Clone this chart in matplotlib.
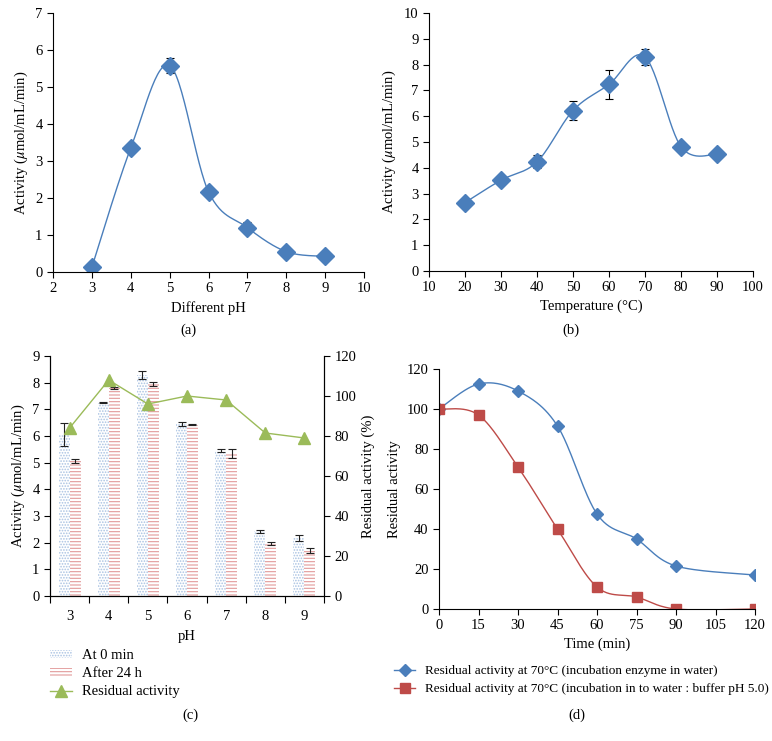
import numpy as np
import matplotlib
matplotlib.use('Agg')
import matplotlib.pyplot as plt
from matplotlib.patches import Patch
from matplotlib.lines import Line2D

plt.rcParams['font.family'] = ['Liberation Serif', 'DejaVu Serif']
plt.rcParams['mathtext.fontset'] = 'stix'
plt.rcParams['font.size'] = 10.5
plt.rcParams['hatch.linewidth'] = 0.8

# (a) activity vs pH
ph_a = [3, 4, 5, 6, 7, 8, 9]
act_a = [0.13, 3.35, 5.58, 2.17, 1.2, 0.55, 0.42]
err_a = [0.04, 0.05, 0.2, 0.06, 0.15, 0.05, 0.04]

# (b) activity vs temperature
temp_b = [20, 30, 40, 50, 60, 70, 80, 90]
act_b = [2.65, 3.52, 4.23, 6.22, 7.23, 8.3, 4.82, 4.52]
err_b = [0.15, 0.1, 0.25, 0.35, 0.55, 0.3, 0.08, 0.15]

# (c) pH stability
ph_c = ['3', '4', '5', '6', '7', '8', '9']
act_0min = [6.05, 7.25, 8.3, 6.45, 5.45, 2.42, 2.17]
err_0min = [0.42, 0.03, 0.15, 0.07, 0.05, 0.06, 0.12]
act_24h = [5.05, 7.8, 7.95, 6.43, 5.35, 1.97, 1.7]
err_24h = [0.07, 0.03, 0.06, 0.02, 0.18, 0.05, 0.1]
resid_c = [84, 108, 96, 100, 98, 81.5, 79]

# (d) thermal stability
time_d = [0, 15, 30, 45, 60, 75, 90, 120]
resid_water = [100, 112.5, 109, 91.5, 47.5, 35, 21.5, 17]
resid_buffer = [100, 97, 71, 40, 11, 6, 0, 0]

BLUE = '#4a7ebb'
RED = '#be4b48'
GREEN = '#9bbb59'
W, H = 772, 741


def box(x0, y0, x1, y1):
    return [x0 / W, 1 - y1 / H, (x1 - x0) / W, (y1 - y0) / H]


def smooth(x, y, xr, yr, n=30):
    # excel-like smoothed line (bezier with 1/6 tangents), done in normalized space
    x = np.asarray(x, float) / xr
    y = np.asarray(y, float) / yr
    P = np.column_stack([x, y])
    P = np.vstack([P[0], P, P[-1]])
    out = []
    t = np.linspace(0, 1, n)[:, None]
    for i in range(1, len(P) - 2):
        p0, p1, p2, p3 = P[i - 1], P[i], P[i + 1], P[i + 2]
        c1 = p1 + (p2 - p0) / 6
        c2 = p2 - (p3 - p1) / 6
        seg = ((1 - t) ** 3) * p1 + 3 * ((1 - t) ** 2) * t * c1 + 3 * (1 - t) * t ** 2 * c2 + t ** 3 * p2
        out.append(seg)
    out = np.vstack(out)
    return out[:, 0] * xr, out[:, 1] * yr


def style(ax):
    for s in ['top', 'right']:
        ax.spines[s].set_visible(False)
    ax.tick_params(direction='out', length=4, width=0.8, labelsize=10.5)


fig = plt.figure(figsize=(W / 100, H / 100), dpi=100)

# ---- (a)
ax = fig.add_axes(box(53, 13, 364, 272))
style(ax)
sx, sy = smooth(ph_a, act_a, 8, 7)
ax.plot(sx, sy, color=BLUE, lw=1)
ax.errorbar(ph_a, act_a, yerr=err_a, fmt='D', color=BLUE, ms=9, ecolor='black',
            elinewidth=0.8, capsize=3, capthick=0.8)
ax.set_xlim(2, 10)
ax.set_ylim(0, 7)
ax.set_xticks(range(2, 11))
ax.set_yticks(range(0, 8))
ax.set_xlabel('Different pH', labelpad=4)
ax.set_ylabel('Activity ($\\mu$mol/mL/min)')
fig.text(188 / W, 1 - 330 / H, '(a)', ha='center', va='center', fontsize=10.5)

# ---- (b)
ax = fig.add_axes(box(429, 13, 753, 271))
style(ax)
sx, sy = smooth(temp_b, act_b, 90, 10)
ax.plot(sx, sy, color=BLUE, lw=1)
ax.errorbar(temp_b, act_b, yerr=err_b, fmt='D', color=BLUE, ms=9, ecolor='black',
            elinewidth=0.8, capsize=3, capthick=0.8)
ax.set_xlim(10, 100)
ax.set_ylim(0, 10)
ax.set_xticks(range(10, 101, 10))
ax.set_yticks(range(0, 11))
ax.set_xlabel('Temperature (°C)', labelpad=4)
ax.set_ylabel('Activity ($\\mu$mol/mL/min)')
fig.text(571 / W, 1 - 330 / H, '(b)', ha='center', va='center', fontsize=10.5)

# ---- (c)
ax = fig.add_axes(box(50, 356, 324, 596))
style(ax)
ax.spines['right'].set_visible(True)
xc = np.arange(len(ph_c))
bw = 0.28
ax.bar(xc - bw / 2, act_0min, bw, color='white', edgecolor='#a9c2e2', hatch='......', lw=0)
ax.bar(xc + bw / 2, act_24h, bw, color='white', edgecolor='#e29a9a', hatch='-----', lw=0)
ax.errorbar(xc - bw / 2, act_0min, yerr=err_0min, fmt='none', ecolor='#222222',
            elinewidth=0.8, capsize=3, capthick=0.8)
ax.errorbar(xc + bw / 2, act_24h, yerr=err_24h, fmt='none', ecolor='#222222',
            elinewidth=0.8, capsize=3, capthick=0.8)
ax.set_xlim(-0.5, len(ph_c) - 0.5)
ax.set_ylim(0, 9)
ax.set_yticks(range(0, 10))
ax.set_xticks(xc)
ax.set_xticklabels(ph_c)
ax.set_xticks(np.arange(-0.5, len(ph_c)), minor=True)
ax.tick_params(axis='x', which='major', length=0, pad=10)
ax.tick_params(axis='x', which='minor', length=5, width=0.8, direction='out')
ax.set_xlabel('pH', labelpad=5)
ax.set_ylabel('Activity ($\\mu$mol/mL/min)')
ax2 = ax.twinx()
ax2.spines['top'].set_visible(False)
ax2.plot(xc, resid_c, color=GREEN, marker='^', ms=9, lw=1)
ax2.set_ylim(0, 120)
ax2.set_yticks(range(0, 121, 20))
ax2.tick_params(direction='out', length=4, width=0.8, labelsize=10.5)
ax2.set_ylabel('Residual activity (%)')
handles = [Patch(facecolor='white', edgecolor='#a9c2e2', hatch='......', lw=0),
           Patch(facecolor='white', edgecolor='#e29a9a', hatch='-----', lw=0),
           Line2D([], [], color=GREEN, marker='^', ms=8, lw=1)]
fig.legend(handles, ['At 0 min', 'After 24 h', 'Residual activity'],
           loc='upper left', bbox_to_anchor=(50 / W, 1 - 649 / H), frameon=False,
           borderpad=0, borderaxespad=0, handleheight=0.5,
           handlelength=1.5, handletextpad=0.7, labelspacing=0.36, fontsize=10.5)
fig.text(190 / W, 1 - 715 / H, '(c)', ha='center', va='center', fontsize=10.5)

# ---- (d)
ax = fig.add_axes(box(439, 369, 755, 609))
style(ax)
sx, sy = smooth(time_d, resid_water, 120, 120)
ax.plot(sx, sy, color=BLUE, lw=1)
ax.plot(time_d, resid_water, 'D', color=BLUE, ms=6)
sx, sy = smooth(time_d, resid_buffer, 120, 120)
ax.plot(sx, sy, color=RED, lw=1)
ax.plot(time_d, resid_buffer, 's', color=RED, ms=7)
ax.set_xlim(0, 120)
ax.set_ylim(0, 120)
ax.set_xticks(range(0, 121, 15))
ax.set_yticks(range(0, 121, 20))
ax.set_xlabel('Time (min)', labelpad=4)
ax.set_ylabel('Residual activity')
handles = [Line2D([], [], color=BLUE, marker='D', ms=6, lw=1),
           Line2D([], [], color=RED, marker='s', ms=7, lw=1)]
fig.legend(handles, ['Residual activity at 70°C (incubation enzyme in water)',
                     'Residual activity at 70°C (incubation in to water : buffer pH 5.0)'],
           loc='upper left', bbox_to_anchor=(394 / W, 1 - 665 / H), frameon=False,
           borderpad=0, borderaxespad=0,
           handlelength=1.6, handletextpad=0.75, labelspacing=0.45, fontsize=9.5)
fig.text(577 / W, 1 - 715 / H, '(d)', ha='center', va='center', fontsize=10.5)

fig.savefig('out.png', dpi=100)
